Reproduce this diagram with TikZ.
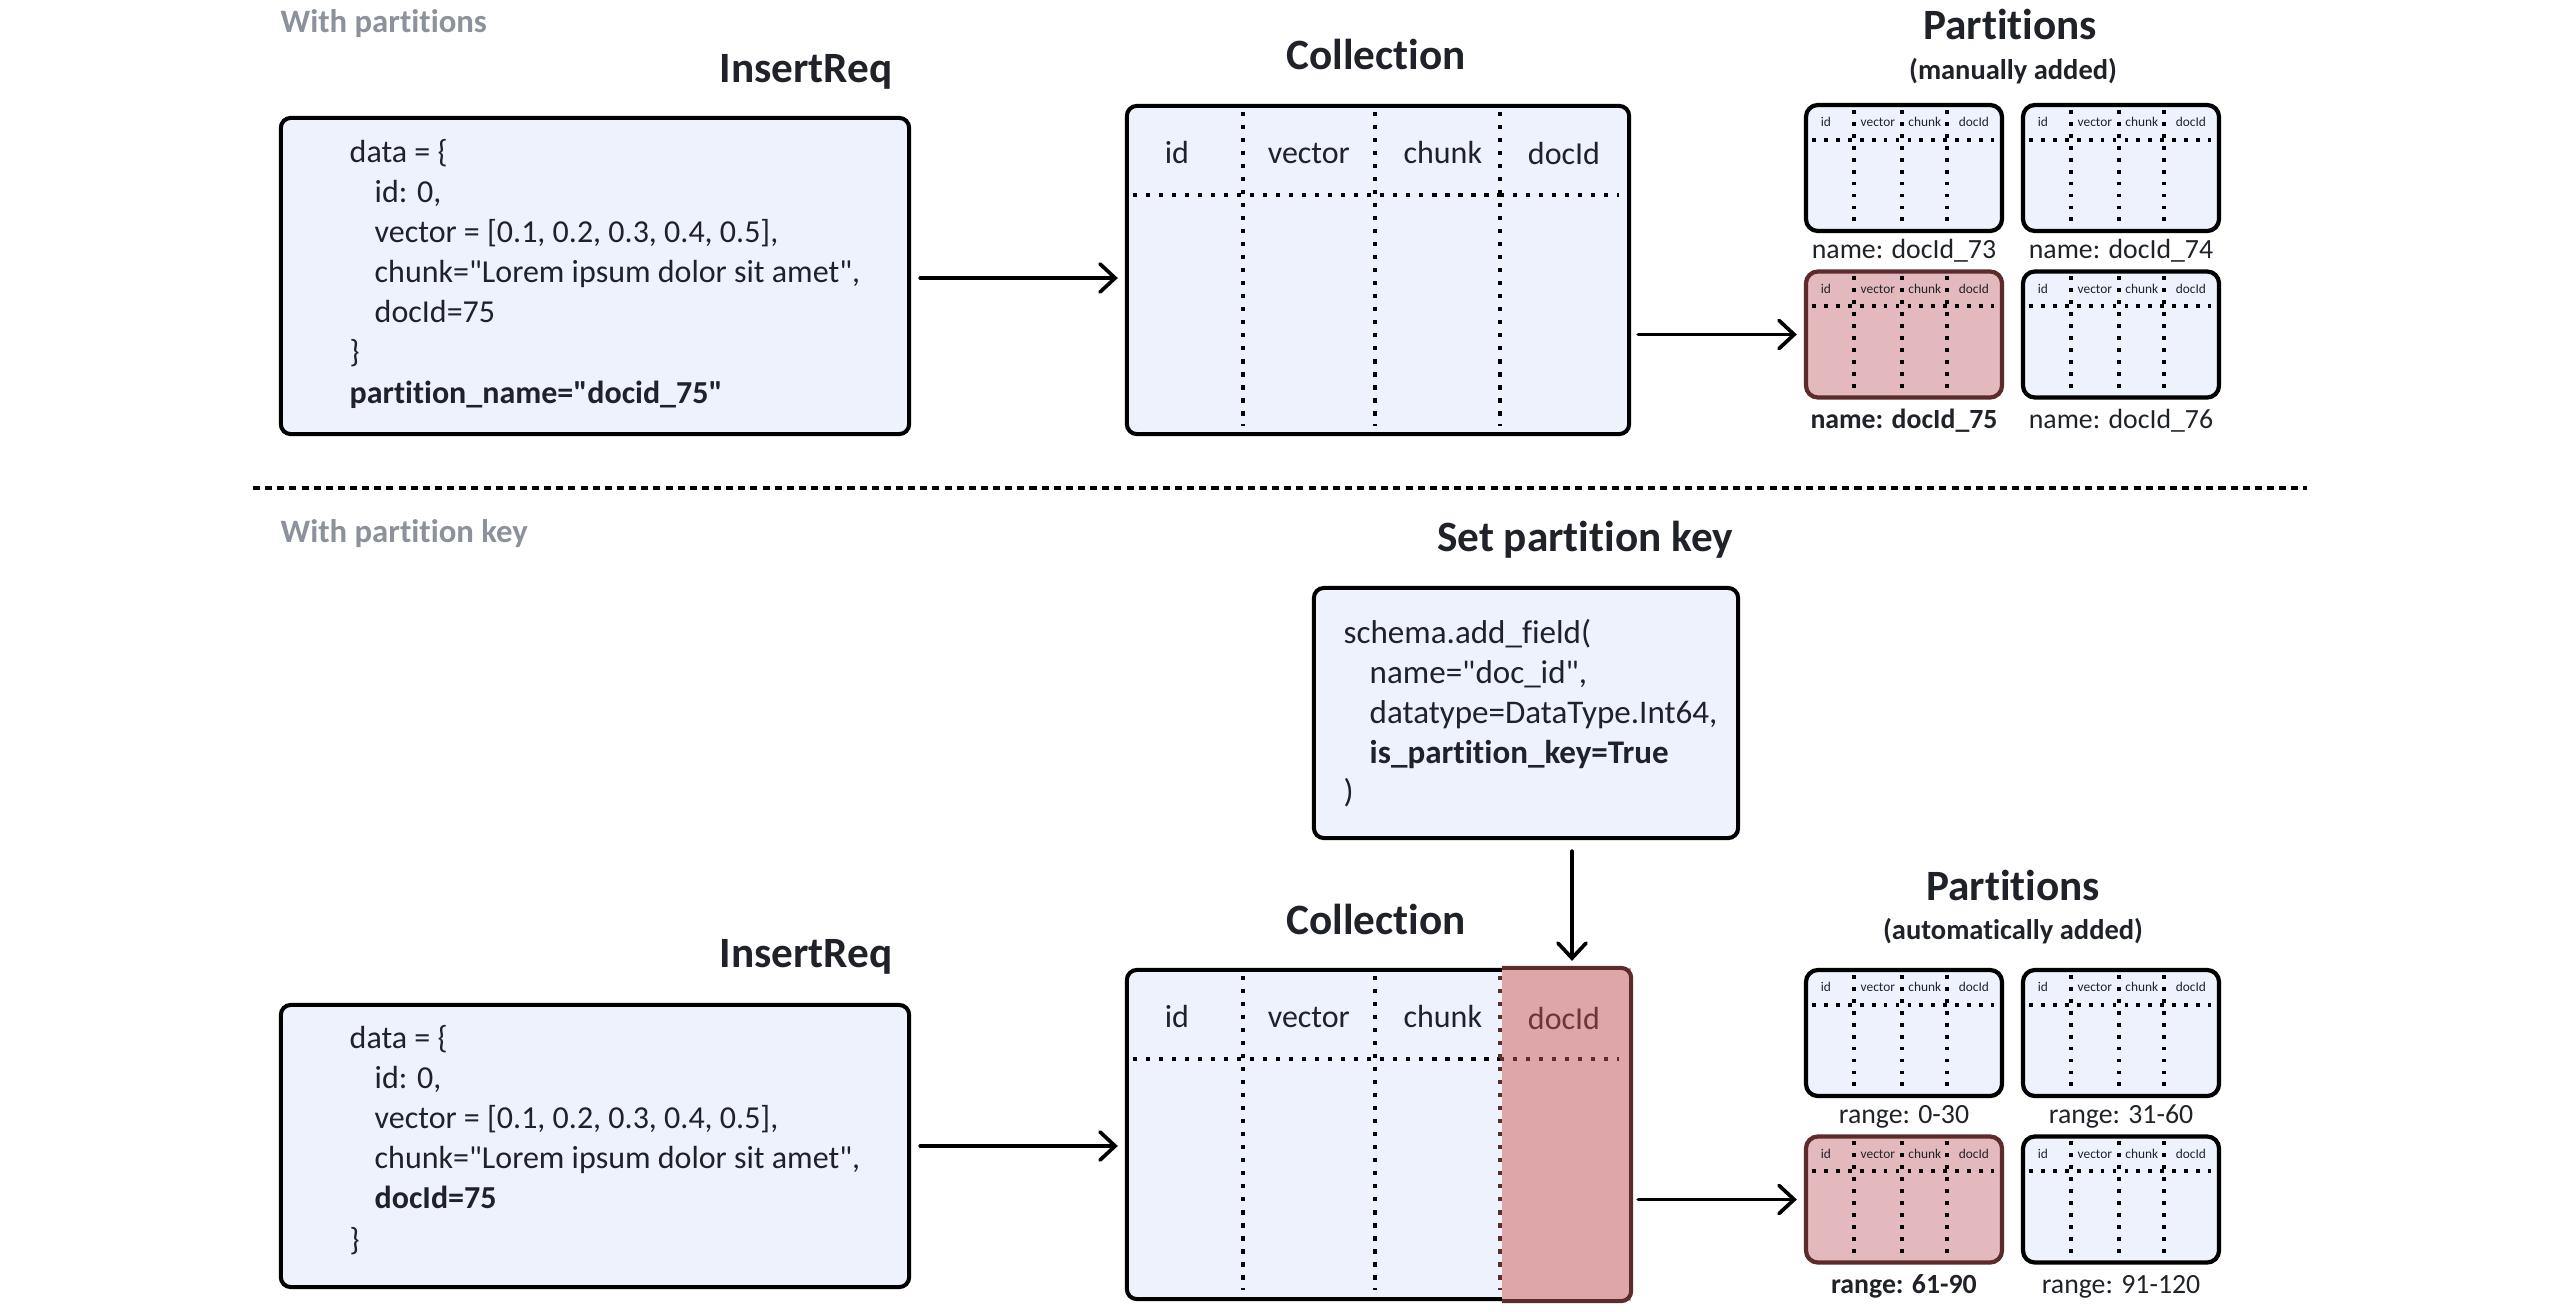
\documentclass[tikz,border=0pt]{standalone}
\usepackage{fontspec}
\setmainfont{Carlito}[Ligatures={TeXOff,CommonOff}]
\usetikzlibrary{arrows.meta}
\definecolor{txt}{HTML}{1F2329}
\definecolor{boxfill}{HTML}{EDF2FC}
\definecolor{graytxt}{HTML}{8C929B}
\definecolor{redcol}{HTML}{DFA6A9}
\definecolor{redpart}{HTML}{E3B9BD}
\definecolor{redline}{HTML}{5C2B2B}
\definecolor{redtxt}{HTML}{6E3438}
\tikzset{
  box/.style={draw=black, fill=boxfill, line width=1.15pt, rounded corners=0.1cm, inner sep=0pt},
  stab/.style={draw=black, fill=boxfill, line width=1.2pt, rounded corners=0.12cm, inner sep=0pt,
    minimum width=1.96cm, minimum height=1.26cm},
  redstab/.style={draw=redline, fill=redpart},
  bluestab/.style={},
  code/.style={font=\fontsize{9.1}{10}\selectfont, text=txt, inner sep=0pt, anchor=base west},
  scode/.style={font=\fontsize{9.4}{10}\selectfont, text=txt, inner sep=0pt, anchor=base west},
  ttl/.style={font=\fontsize{12.3}{14}\selectfont\bfseries, text=txt, inner sep=0pt, anchor=base},
  sub/.style={font=\fontsize{8.1}{9}\selectfont\bfseries, text=txt, inner sep=0pt, anchor=base},
  grayttl/.style={font=\fontsize{9.3}{11}\selectfont\bfseries, text=graytxt, inner sep=0pt, anchor=base west},
  head/.style={font=\fontsize{9.1}{10}\selectfont, text=txt, inner sep=0pt, anchor=base},
  plab/.style={font=\fontsize{7.9}{9}\selectfont, text=txt, inner sep=0pt, anchor=base},
  plabb/.style={font=\fontsize{7.9}{9}\selectfont\bfseries, text=txt, inner sep=0pt, anchor=base},
  stxt/.style={font=\fontsize{3.8}{4.5}\selectfont, text=txt, inner sep=0pt, anchor=base},
  dots/.style={line width=1.25pt, dash pattern=on 1.25pt off 2.45pt, line cap=butt},
  sdots/.style={line width=1.1pt, dash pattern=on 1.1pt off 2.3pt, line cap=butt},
  arr/.style={line width=1.05pt, line cap=round, -{Straight Barb[length=4.3pt, width=8pt, line width=1.05pt, line cap=round]}},
  sep/.style={line width=1.15pt, dash pattern=on 2pt off 1.45pt},
}
\newcommand\smalltab[4]{%
  \node[stab,#4] (#1) at (#2,#3) {};
  \begin{scope}[shift={(#1.north west)}]
    \draw[sdots] (8,37) -- (190,37);
    \foreach \xx in {50,98,143} \draw[sdots] (\xx,7) -- (\xx,121);
    \node[stxt] (#1-a) at (22,24) {id};
    \node[stxt] (#1-b) at (74,24) {vector};
    \node[stxt] (#1-c) at (121,24) {chunk};
    \node[stxt] (#1-d) at (170,24) {docId};
  \end{scope}
}
\newcommand\colltable[2]{%
  \begin{scope}[shift={(#1.north west)}]
    \draw[dots] (8,91) -- (375,91);
    \draw[dots,#2] (375,91) -- (494,91);
    \draw[dots] (118,8) -- (118,322);
    \draw[dots] (250,8) -- (250,322);
    \draw[dots,#2] (375,8) -- (375,322);
    \node[head] (#1-a) at (52,60) {id};
    \node[head] (#1-b) at (184,60) {vector};
    \node[head] (#1-c) at (318,60) {chunk};
  \end{scope}
}
\begin{document}
\begin{tikzpicture}[x=0.01cm,y=-0.01cm]
\useasboundingbox[fill=white] (0,0) rectangle (2560,1312);

% ---------------- top section ----------------
\node[grayttl] (lbl1) at (280,32) {With partitions};
\node[ttl] (t-req1) at (806,82) {InsertReq};
\node[ttl] (t-coll1) at (1376,70) {Collection};
\node[ttl] (t-part1) at (2010,40) {Partitions};
\node[sub] (t-part1s) at (2013,80) {(manually added)};

\node[box, minimum width=6.28cm, minimum height=3.16cm] (req1) at (595,276) {};
\node[code] (r1l1) at (349,162) {data = \{};
\node[code] (r1l2) at (374,202) {id: 0,};
\node[code] (r1l3) at (374,242) {vector = [0.1, 0.2, 0.3, 0.4, 0.5],};
\node[code] (r1l4) at (374,282) {chunk="Lorem ipsum dolor sit amet",};
\node[code] (r1l5) at (374,322) {docId=75};
\node[code] (r1l6) at (349,362) {\}};
\node[code] (r1l7) at (349,403) {\textbf{partition\_name="docid\_75"}};

\node[box, minimum width=5.02cm, minimum height=3.28cm] (coll1) at (1378,270) {};
\colltable{coll1}{}
\node[head] (coll1-d) at (1564,164) {docId};

\smalltab{p1}{1904}{168}{bluestab}
\smalltab{p2}{2121}{168}{bluestab}
\smalltab{p3}{1904}{334.5}{redstab}
\smalltab{p4}{2121}{334.5}{bluestab}
\node[plab] (p1l) at (1904,258) {name: docId\_73};
\node[plab] (p2l) at (2121,258) {name: docId\_74};
\node[plabb] (p3l) at (1904,428) {name: docId\_75};
\node[plab] (p4l) at (2121,428) {name: docId\_76};

\draw[arr, shorten <=0.09cm, shorten >=0.07cm] (req1.east |- 0,278) -- (coll1.west |- 0,278);
\draw[arr, shorten <=0.07cm, shorten >=0.07cm] (p3.west -| coll1.east) -- (p3.west);

% ---------------- separator ----------------
\coordinate (sepL) at (253,488);
\coordinate (sepR) at (2307,488);
\draw[sep] (sepL) -- (sepR);

% ---------------- bottom section ----------------
\node[grayttl] (lbl2) at (280,542) {With partition key};
\node[ttl] (t-key) at (1585,551) {Set partition key};
\node[ttl] (t-req2) at (806,967) {InsertReq};
\node[ttl] (t-coll2) at (1376,934) {Collection};
\node[ttl] (t-part2) at (2013,900) {Partitions};
\node[sub] (t-part2s) at (2013,939) {(automatically added)};

\node[box, minimum width=4.24cm, minimum height=2.5cm] (schema) at (1526,713) {};
\node[scode] (s1) at (1343,643) {schema.add\_field(};
\node[scode] (s2) at (1369,683) {name="doc\_id",};
\node[scode] (s3) at (1369,723) {datatype=DataType.Int64,};
\node[scode] (s4) at (1369,763) {\textbf{is\_partition\_key=True}};
\node[scode] (s5) at (1343,802) {)};

\node[box, minimum width=6.28cm, minimum height=2.82cm] (req2) at (595,1146) {};
\node[code] (r2l1) at (349,1048) {data = \{};
\node[code] (r2l2) at (374,1088) {id: 0,};
\node[code] (r2l3) at (374,1128) {vector = [0.1, 0.2, 0.3, 0.4, 0.5],};
\node[code] (r2l4) at (374,1168) {chunk="Lorem ipsum dolor sit amet",};
\node[code] (r2l5) at (374,1208) {\textbf{docId=75}};
\node[code] (r2l6) at (349,1250) {\}};

\node[box, minimum width=5.02cm, minimum height=3.29cm] (coll2) at (1378,1134.5) {};
\coordinate (kcol) at (1502,1134.5);
\path[fill=redcol] (kcol |- coll2.north) -- (coll2.north east) -- (coll2.south east) -- (kcol |- coll2.south) -- cycle;
\draw[redline, line width=1.15pt, rounded corners=0.1cm] (kcol |- coll2.north) -- (coll2.north east) -- (coll2.south east) -- (kcol |- coll2.south);
\colltable{coll2}{redline}
\node[head, text=redtxt] (coll2-d) at (1564,1029) {docId};

\smalltab{q1}{1904}{1033}{bluestab}
\smalltab{q2}{2121}{1033}{bluestab}
\smalltab{q3}{1904}{1199.5}{redstab}
\smalltab{q4}{2121}{1199.5}{bluestab}
\node[plab] (q1l) at (1904,1123) {range: 0-30};
\node[plab] (q2l) at (2121,1123) {range: 31-60};
\node[plabb] (q3l) at (1904,1293) {range: 61-90};
\node[plab] (q4l) at (2121,1293) {range: 91-120};

\coordinate (kx) at (1572,0);
\draw[arr, shorten <=0.11cm, shorten >=0.07cm] (schema.south -| kx) -- (coll2.north -| kx);
\draw[arr, shorten <=0.09cm, shorten >=0.07cm] (req2.east) -- (req2.east -| coll2.west);
\draw[arr, shorten <=0.07cm, shorten >=0.07cm] (q3.west -| coll2.east) -- (q3.west);
\end{tikzpicture}
\end{document}
